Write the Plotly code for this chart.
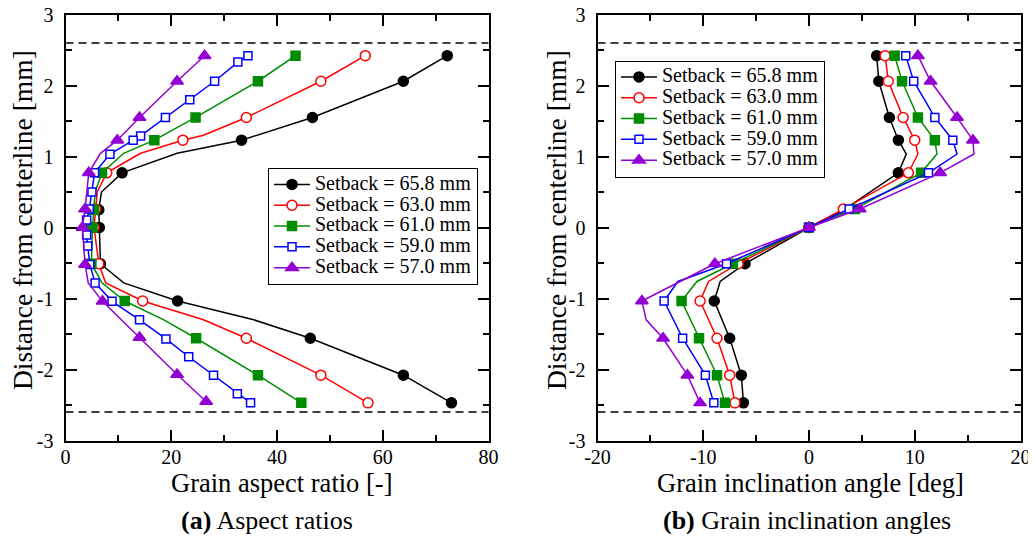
import plotly.graph_objects as go

FONT = "Liberation Serif"
# the page has an 8px body margin: the figure starts at (8, 8) of the window
OX, OY = 8, 8
W, H = 1036 - OX, 537 - OY

# ---------------- data ----------------
setbacks = ["65.8", "63.0", "61.0", "59.0", "57.0"]
colors = ["#000000", "#ff0000", "#008c00", "#0000ff", "#9400d3"]
symbols = ["circle", "circle", "square", "square", "triangle-up"]
fills = ["#000000", "#ffffff", "#008c00", "#ffffff", "#9400d3"]
msizes = [10, 10, 9, 8, 11]

dashed_levels = [2.6, -2.6]

y_ticks = [-3, -2, -1, 0, 1, 2, 3]
y_ticktext = ["-3", "-2", "-1", "0", "1", "2", "3"]
xa_ticks = [0, 20, 40, 60, 80]
xa_ticktext = ["0", "20", "40", "60", "80"]
xb_ticks = [-20, -10, 0, 10, 20]
xb_ticktext = ["-20", "-10", "0", "10", "20"]

# (a) grain aspect ratio; flag 1 = point drawn with a symbol
ar_y_658 = [2.42, 2.06, 1.55, 1.23, 1.045, 0.77, 0.50, 0.25, 0.0, -0.51, -0.78, -1.035, -1.30, -1.56, -2.08, -2.47]
ar_x_658 = [72.2, 63.9, 46.7, 33.3, 21.1, 10.7, 6.8, 6.3, 6.4, 6.6, 11.0, 21.2, 35.6, 46.3, 63.9, 73.0]
ar_m_658 = [1, 1, 1, 1, 0, 1, 0, 1, 1, 1, 0, 1, 0, 1, 1, 1]

ar_y_630 = [2.42, 2.06, 1.55, 1.30, 1.23, 1.045, 0.77, 0.50, 0.26, 0.0, -0.51, -0.78, -1.035, -1.30, -1.56, -2.08, -2.47]
ar_x_630 = [56.7, 48.3, 34.2, 26.1, 22.2, 14.2, 7.8, 6.0, 5.7, 5.4, 6.3, 7.6, 14.6, 26.1, 34.2, 48.3, 57.2]
ar_m_630 = [1, 1, 1, 0, 1, 0, 1, 0, 1, 1, 1, 0, 1, 0, 1, 1, 1]

ar_y_610 = [2.42, 2.06, 1.55, 1.23, 1.045, 0.77, 0.50, 0.25, 0.0, -0.51, -0.78, -1.035, -1.30, -1.56, -2.08, -2.47]
ar_x_610 = [43.5, 36.4, 24.6, 16.8, 11.0, 6.9, 5.6, 5.4, 5.1, 4.9, 6.9, 11.2, 18.6, 24.7, 36.4, 44.6]
ar_m_610 = [1, 1, 1, 1, 0, 1, 0, 1, 1, 1, 0, 1, 0, 1, 1, 1]

ar_y_590 = [2.42, 2.33, 2.06, 1.80, 1.55, 1.29, 1.23, 1.03, 0.77, 0.50, 0.26, 0.105, -0.105, -0.26, -0.52, -0.78, -1.04, -1.30, -1.57, -1.82, -2.08, -2.34, -2.47]
ar_x_590 = [34.5, 32.6, 28.2, 23.5, 18.9, 14.2, 12.8, 8.4, 5.5, 5.0, 4.5, 4.0, 4.0, 4.2, 4.6, 5.6, 8.8, 14.0, 19.0, 23.3, 28.0, 32.5, 35.0]
ar_m_590 = [1] * len(ar_y_590)

ar_y_570 = [2.42, 2.06, 1.55, 1.23, 1.045, 0.77, 0.26, 0.0, -0.52, -0.78, -1.04, -1.55, -2.07, -2.45]
ar_x_570 = [26.3, 21.1, 14.0, 9.8, 6.6, 4.4, 3.7, 3.2, 3.7, 4.3, 7.0, 14.0, 21.1, 26.6]
ar_m_570 = [1, 1, 1, 1, 0, 1, 1, 1, 1, 0, 1, 1, 1, 1]

# (b) grain inclination angle [deg]
ang_y_658 = [2.42, 2.06, 1.55, 1.23, 1.035, 0.77, 0.26, 0.0, -0.51, -0.76, -1.035, -1.56, -2.08, -2.47]
ang_x_658 = [6.4, 6.6, 7.6, 8.45, 9.2, 8.45, 3.4, 0.0, -6.05, -8.4, -8.96, -7.5, -6.4, -6.2]
ang_m_658 = [1, 1, 1, 1, 0, 1, 0, 1, 1, 0, 1, 1, 1, 1]

ang_y_630 = [2.42, 2.06, 1.55, 1.23, 1.035, 0.77, 0.26, 0.0, -0.51, -0.76, -1.035, -1.56, -2.08, -2.47]
ang_x_630 = [7.2, 7.5, 8.9, 10.0, 10.3, 9.4, 3.25, 0.0, -6.7, -9.5, -10.3, -8.7, -7.5, -7.0]
ang_m_630 = [1, 1, 1, 1, 0, 1, 1, 1, 1, 0, 1, 1, 1, 1]

ang_y_610 = [2.42, 2.06, 1.55, 1.23, 1.035, 0.77, 0.26, 0.0, -0.51, -0.76, -1.035, -1.56, -2.08, -2.47]
ang_x_610 = [8.1, 8.8, 10.3, 11.9, 12.1, 10.6, 4.35, 0.0, -7.2, -10.6, -12.05, -10.4, -8.7, -7.95]
ang_m_610 = [1, 1, 1, 1, 0, 1, 1, 1, 1, 0, 1, 1, 1, 1]

ang_y_590 = [2.42, 2.06, 1.55, 1.23, 1.035, 0.77, 0.26, 0.0, -0.51, -0.76, -1.035, -1.56, -2.08, -2.47]
ang_x_590 = [9.15, 9.9, 11.9, 13.6, 14.0, 11.3, 3.8, 0.0, -7.8, -12.4, -13.7, -11.95, -9.8, -9.0]
ang_m_590 = [1, 1, 1, 1, 0, 1, 1, 1, 1, 0, 1, 1, 1, 1]

ang_y_570 = [2.42, 2.06, 1.55, 1.23, 1.035, 0.77, 0.26, 0.0, -0.51, -1.035, -1.30, -1.56, -2.08, -2.47]
ang_x_570 = [10.3, 11.5, 14.0, 15.5, 15.6, 12.4, 4.8, 0.0, -8.9, -15.8, -15.4, -13.8, -11.5, -10.3]
ang_m_570 = [1, 1, 1, 1, 0, 1, 1, 1, 1, 1, 0, 1, 1, 1]

panel_a = [(ar_x_658, ar_y_658, ar_m_658), (ar_x_630, ar_y_630, ar_m_630),
           (ar_x_610, ar_y_610, ar_m_610), (ar_x_590, ar_y_590, ar_m_590),
           (ar_x_570, ar_y_570, ar_m_570)]
panel_b = [(ang_x_658, ang_y_658, ang_m_658), (ang_x_630, ang_y_630, ang_m_630),
           (ang_x_610, ang_y_610, ang_m_610), (ang_x_590, ang_y_590, ang_m_590),
           (ang_x_570, ang_y_570, ang_m_570)]


def px(sx):
    return (sx - OX) / W


def py(sy):
    return 1 - (sy - OY) / H


# ---------------- figure ----------------
fig = go.Figure()


def add_panel(series, xa, ya, legend_name):
    for i, (xs, ys, ms) in enumerate(series):
        mk = dict(symbol=symbols[i], size=msizes[i], color=fills[i],
                  line=dict(color=colors[i], width=1.5))
        fig.add_trace(go.Scatter(x=xs, y=ys, mode="lines", xaxis=xa, yaxis=ya,
                                 line=dict(color=colors[i], width=1.5),
                                 showlegend=False, hoverinfo="skip"))
        mx = [x for x, m in zip(xs, ms) if m]
        my = [y for y, m in zip(ys, ms) if m]
        fig.add_trace(go.Scatter(x=mx, y=my, mode="markers", xaxis=xa, yaxis=ya,
                                 marker=mk, showlegend=False))
    for i in range(len(series)):
        mk = dict(symbol=symbols[i], size=msizes[i], color=fills[i],
                  line=dict(color=colors[i], width=1.5))
        fig.add_trace(go.Scatter(
            x=[None], y=[None], mode="lines+markers", xaxis=xa, yaxis=ya, marker=mk,
            line=dict(color=colors[i], width=1.5),
            name='<span style="font-size:20px">Setback = %s mm</span>' % setbacks[i],
            legend=legend_name, showlegend=True))


add_panel(panel_a, "x", "y", "legend")
add_panel(panel_b, "x2", "y2", "legend2")

for lvl in dashed_levels:
    for xr, yr in (("x domain", "y"), ("x2 domain", "y2")):
        fig.add_shape(type="line", xref=xr, yref=yr, x0=0, x1=1, y0=lvl, y1=lvl,
                      line=dict(color="black", width=1.5, dash="8px,5px"), layer="below")

tickfont = dict(family=FONT, size=20, color="black")
common = dict(showline=True, linecolor="black", linewidth=2, mirror="ticks",
              ticks="inside", ticklen=11, tickwidth=1.5, tickcolor="black",
              showgrid=False, zeroline=False, tickfont=tickfont, fixedrange=True,
              automargin=False, ticklabeloverflow="allow")

ydom = [py(440.5), py(14.5)]
fig.update_layout(
    xaxis=dict(domain=[px(65.5), px(488.5)], range=[0, 80], tickmode="array",
               tickvals=xa_ticks, ticktext=xa_ticktext, anchor="y",
               minor=dict(tickmode="linear", tick0=0, dtick=10, ticks="inside",
                          ticklen=6, tickwidth=1.5, tickcolor="black"),
               ticklabelstandoff=-3, **common),
    yaxis=dict(domain=ydom, range=[-3, 3], tickmode="array", tickvals=y_ticks,
               ticktext=y_ticktext, anchor="x",
               minor=dict(tickmode="linear", tick0=0, dtick=0.5, ticks="inside",
                          ticklen=6, tickwidth=1.5, tickcolor="black"),
               ticklabelstandoff=6, **common),
    xaxis2=dict(domain=[px(597.5), px(1020.5)], range=[-20, 20], tickmode="array",
                tickvals=xb_ticks, ticktext=xb_ticktext, anchor="y2",
                minor=dict(tickmode="linear", tick0=0, dtick=5, ticks="inside",
                           ticklen=6, tickwidth=1.5, tickcolor="black"),
                ticklabelstandoff=-3, **common),
    yaxis2=dict(domain=ydom, range=[-3, 3], tickmode="array", tickvals=y_ticks,
                ticktext=y_ticktext, anchor="x2",
                minor=dict(tickmode="linear", tick0=0, dtick=0.5, ticks="inside",
                           ticklen=6, tickwidth=1.5, tickcolor="black"),
                ticklabelstandoff=6, **common),
)

legend_common = dict(font=dict(family=FONT, size=13.7, color="black"),
                     bgcolor="white", bordercolor="black", borderwidth=1,
                     xanchor="left", yanchor="middle", traceorder="normal",
                     itemwidth=36)
fig.update_layout(
    legend=dict(x=px(268), y=py(226.5), **legend_common),
    legend2=dict(x=px(615), y=py(119), **legend_common),
)

title_font = dict(family=FONT, size=26.5, color="black")
ytitle_font = dict(family=FONT, size=27.5, color="black")
cap_font = dict(family=FONT, size=26, color="black")
annots = [
    dict(text="Grain aspect ratio [-]", x=px(281), y=py(483), font=title_font),
    dict(text="Grain inclination angle [deg]", x=px(810), y=py(483), font=title_font),
    dict(text="Distance from centerline [mm]", x=px(22), y=py(220), font=ytitle_font, textangle=-90),
    dict(text="Distance from centerline [mm]", x=px(556), y=py(220), font=ytitle_font, textangle=-90),
    dict(text="<b>(a)</b> Aspect ratios", x=px(267), y=py(520), font=cap_font),
    dict(text="<b>(b)</b> Grain inclination angles", x=px(807), y=py(520), font=cap_font),
]
for a in annots:
    fig.add_annotation(xref="paper", yref="paper", showarrow=False,
                       xanchor="center", yanchor="middle", **a)

fig.update_layout(width=W, height=H, autosize=False,
                  margin=dict(l=0, r=0, t=0, b=0, autoexpand=False),
                  paper_bgcolor="white", plot_bgcolor="white",
                  font=dict(family=FONT, color="black"), hovermode=False)

fig.write_html("out.html")
